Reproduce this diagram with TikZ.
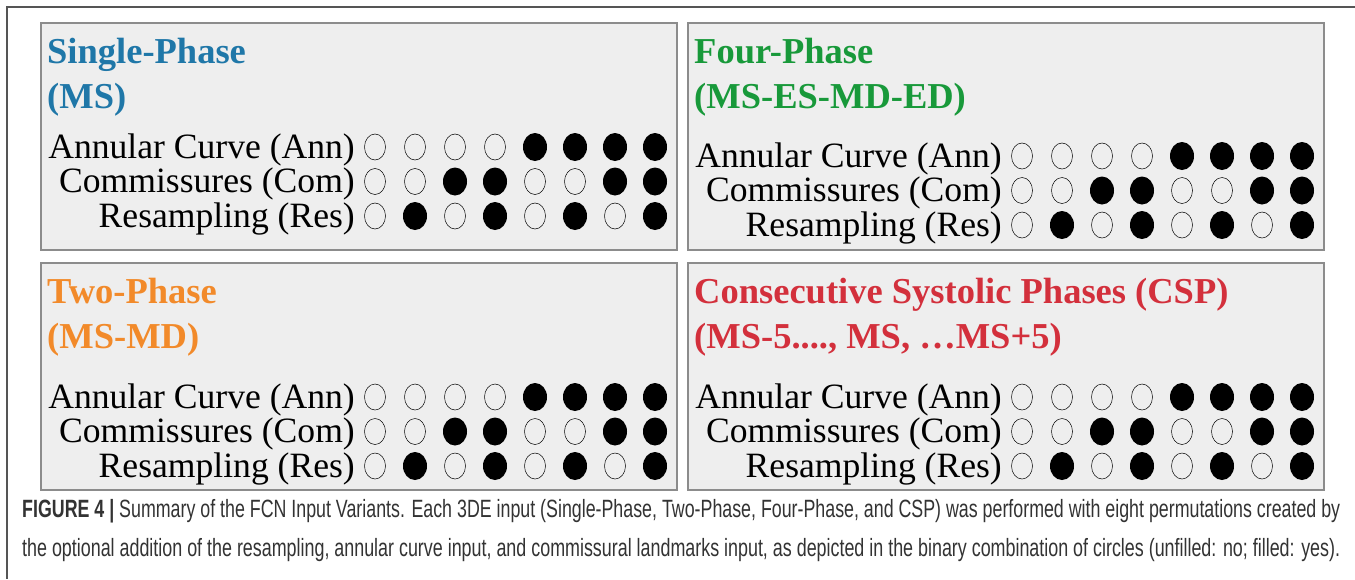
\documentclass[tikz,border=0pt]{standalone}
\usepackage{fontspec}
\usepackage{graphicx}
\setmainfont{Liberation Serif}
\newfontfamily\capfont{Liberation Sans}
\usetikzlibrary{shapes.geometric}
\definecolor{cblue}{HTML}{1F77A8}
\definecolor{cgreen}{HTML}{18993A}
\definecolor{corange}{HTML}{F28A2A}
\definecolor{cred}{HTML}{D3303C}
\definecolor{panelfill}{HTML}{EEEEEE}
\definecolor{panelline}{HTML}{8C8C8C}
\definecolor{framegray}{HTML}{555555}
\definecolor{captext}{HTML}{333333}
\tikzset{
  panelbox/.style={draw=panelline, line width=1.5pt, fill=panelfill, inner sep=0pt},
  titletext/.style={anchor=base west, inner sep=0pt, font=\fontsize{36.5}{36.5}\selectfont\bfseries},
  rowlabel/.style={anchor=base east, inner sep=0pt, font=\fontsize{35.6}{35.6}\selectfont},
  dotoff/.style={ellipse, draw=black, line width=0.5pt, minimum width=21pt, minimum height=26pt, inner sep=0pt},
  doton/.style={ellipse, fill=black, minimum width=24pt, minimum height=28pt, inner sep=0pt},
  captionline/.style={anchor=base west, inner sep=0pt, text=captext, font=\capfont\fontsize{25}{25}\selectfont},
}
\newcommand\fcnpanel[7]{%
\begin{scope}[shift={(#2,#3)}]
  \node[panelbox, anchor=north west, minimum width=636pt, minimum height=227pt] (#1) at (0,0) {};
  \node[titletext, text=#4] (#1-t1) at (7,41) {#5};
  \node[titletext, text=#4] (#1-t2) at (7,86) {#6};
  \foreach \lab [count=\r] in {Annular Curve (Ann), Commissures (Com), Resampling (Res)} {
    \node[rowlabel] (#1-l\r) at (315,{#7+34.5*(\r-1)}) {\lab};
    \foreach \c in {1,...,8} {
      \pgfmathtruncatemacro\bit{mod(floor((\c-1)/(2^(3-\r))),2)}
      \ifnum\bit=1
        \node[doton] (#1-d\r-\c) at ({295+40*\c},{#7+34.5*(\r-1)-11}) {};
      \else
        \node[dotoff] (#1-d\r-\c) at ({295+40*\c},{#7+34.5*(\r-1)-11}) {};
      \fi
    }
  }
\end{scope}}
\begin{document}
\begin{tikzpicture}[x=1pt,y=-1pt]
\useasboundingbox (0,0) rectangle (1355,579);
\fill[white] (0,0) rectangle (1355,579);
\draw[framegray, line width=2pt] (1355,6.5) -- (6.5,6.5) -- (6.5,579);
\fcnpanel{sp}{40}{22}{cblue}{Single-Phase}{(MS)}{136}
\fcnpanel{fp}{687}{22}{cgreen}{Four-Phase}{(MS-ES-MD-ED)}{145}
\fcnpanel{tp}{40}{262}{corange}{Two-Phase}{(MS-MD)}{146}
\fcnpanel{csp}{687}{262}{cred}{Consecutive Systolic Phases (CSP)}{(MS-5...., MS, \dots MS+5)}{146}
\node[captionline] (cap1) at (22,517) {\resizebox{1318pt}{\height}{\textbf{FIGURE 4 |} Summary of the FCN Input Variants. Each 3DE input (Single-Phase, Two-Phase, Four-Phase, and CSP) was performed with eight permutations created by}};
\node[captionline] (cap2) at (22,556) {\resizebox{1318pt}{\height}{the optional addition of the resampling, annular curve input, and commissural landmarks input, as depicted in the binary combination of circles (unfilled: no; filled: yes).}};
\end{tikzpicture}
\end{document}
